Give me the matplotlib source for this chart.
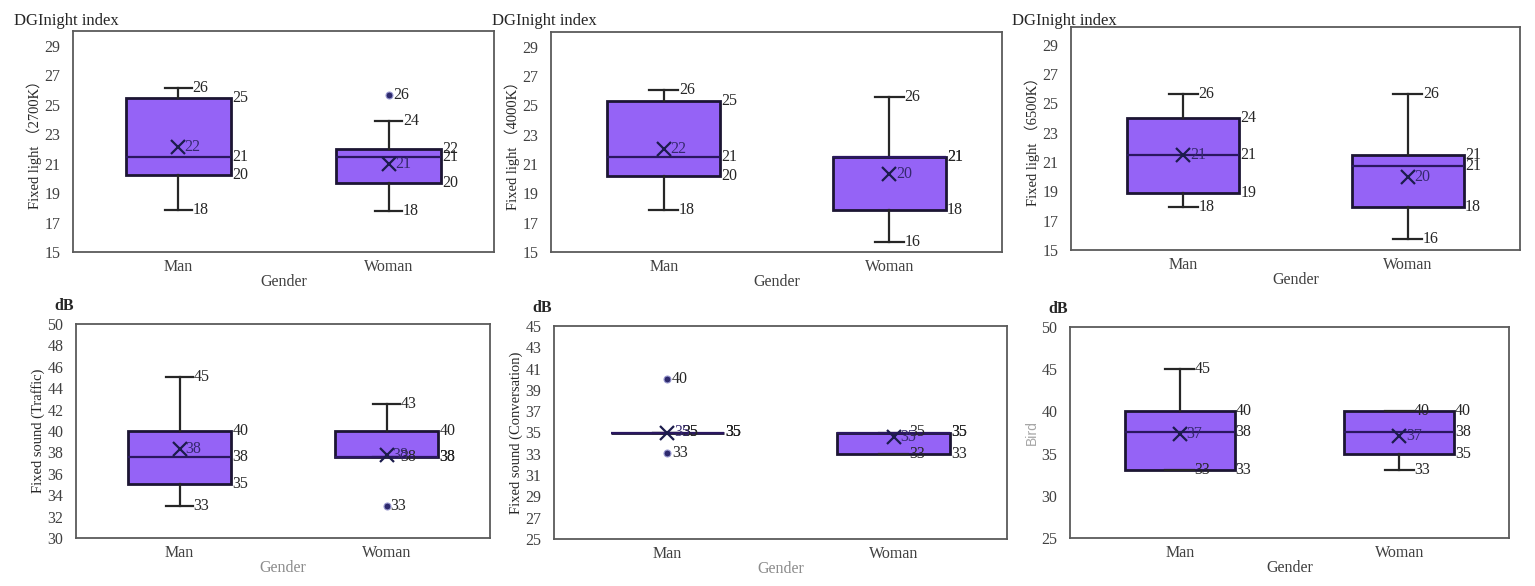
import matplotlib
matplotlib.use("Agg")
import matplotlib.pyplot as plt

plt.rcParams['font.family'] = ['Liberation Serif', 'Noto Sans CJK SC', 'DejaVu Sans']

W, H = 1535, 586

genders = ['Man', 'Woman']

# box stats per panel: [whislo, q1, median, q3, whishi, mean], outliers
light2700 = [[17.85, 20.2, 21.45, 25.45, 26.1, 22.1], [17.8, 19.7, 21.45, 21.97, 23.9, 21.0]]
light2700_fl = [[], [25.66]]
light4000 = [[17.85, 20.2, 21.45, 25.3, 26.05, 22.0], [15.7, 17.85, 21.45, 21.45, 25.6, 20.35]]
light4000_fl = [[], []]
light6500 = [[17.9, 18.9, 21.45, 24.0, 25.66, 21.45], [15.75, 17.92, 20.75, 21.45, 25.66, 20.0]]
light6500_fl = [[], []]
traffic = [[33.03, 35.04, 37.6, 40.03, 45.07, 38.3], [37.6, 37.6, 37.6, 40.0, 42.55, 37.75]]
traffic_fl = [[], [33.0]]
conversation = [[35.0, 35.0, 35.0, 35.0, 35.0, 35.0], [33.0, 33.0, 35.0, 35.0, 35.0, 34.55]]
conversation_fl = [[40.07, 33.06], []]
bird = [[33.05, 33.05, 37.6, 40.0, 45.0, 37.3], [33.1, 34.96, 37.6, 40.0, 40.0, 37.08]]
bird_fl = [[], []]

panels = [
    # stats, fliers, ylim, yticks, ylabel, unit, rect(px: left, top, right, bottom), gender color
    (light2700, light2700_fl, (15, 30), range(15, 30, 2), 'Fixed light （2700K）', 'DGInight index', (73, 31, 494, 252), '#404040'),
    (light4000, light4000_fl, (15, 30), range(15, 30, 2), 'Fixed light （4000K）', 'DGInight index', (551, 32, 1002, 252), '#404040'),
    (light6500, light6500_fl, (15, 30.2), range(15, 30, 2), 'Fixed light （6500K）', 'DGInight index', (1071, 27, 1520, 250), '#404040'),
    (traffic, traffic_fl, (30, 50), range(30, 51, 2), 'Fixed sound (Traffic)', 'dB', (76, 324, 490, 538), '#8c8c8c'),
    (conversation, conversation_fl, (25, 45), range(25, 46, 2), 'Fixed sound (Conversation)', 'dB', (554, 326, 1007, 539), '#8c8c8c'),
    (bird, bird_fl, (25, 50), range(25, 51, 5), 'Bird', 'dB', (1070, 327, 1509, 538), '#404040'),
]

fill = '#9563F6'
edge = '#1c1533'
txt = '#262626'

fig = plt.figure(figsize=(W / 100, H / 100), dpi=100)

for stats, fliers, ylim, yticks, ylabel, unit, rect, gcol in panels:
    l, t, r, b = rect
    ax = fig.add_axes([l / W, 1 - b / H, (r - l) / W, (b - t) / H])
    bs = []
    for s, f in zip(stats, fliers):
        bs.append(dict(whislo=s[0], q1=s[1], med=s[2], q3=s[3], whishi=s[4], mean=s[5], fliers=f))
    ax.bxp(bs, positions=[1, 2], widths=0.5, patch_artist=True, showmeans=True,
           capwidths=0.13,
           boxprops=dict(facecolor=fill, edgecolor=edge, linewidth=2),
           medianprops=dict(color='#2a1760', linewidth=1.6),
           whiskerprops=dict(color='#262626', linewidth=1.6),
           capprops=dict(color='#262626', linewidth=1.6),
           flierprops=dict(marker='o', markersize=5, markerfacecolor='#2e2a6e', markeredgecolor='#9a9ad0', markeredgewidth=0.8),
           meanprops=dict(marker='x', markersize=10, markeredgecolor='#1c1c4c', markeredgewidth=1.6))

    # value labels like the spreadsheet does
    for pos, s, f in zip([1, 2], stats, fliers):
        for v in (s[1], s[2], s[3]):
            ax.text(pos + 0.255, v, '%.0f' % v, ha='left', va='center', fontsize=11.5, color=txt)
        for v in (s[0], s[4]):
            ax.text(pos + 0.067, v, '%.0f' % v, ha='left', va='center', fontsize=11.5, color=txt)
        ax.text(pos + 0.03, s[5], '%.0f' % s[5], ha='left', va='center', fontsize=11.5, color='#35286e')
        for v in f:
            ax.text(pos + 0.02, v, '%.0f' % v, ha='left', va='center', fontsize=11.5, color=txt)

    ax.set_xlim(0.5, 2.5)
    ax.set_ylim(*ylim)
    ax.set_yticks(list(yticks))
    ax.set_xticks([1, 2])
    ax.set_xticklabels(genders)
    ax.tick_params(length=0, labelsize=11.5, labelcolor='#404040')
    ax.tick_params(axis='y', pad=9)
    ax.tick_params(axis='x', pad=5)
    for sp in ax.spines.values():
        sp.set_color('#5a5a5a')
        sp.set_linewidth(1.3)

    if ylabel == 'Bird':
        ax.set_ylabel(ylabel, fontsize=10, color='#a6a6a6', family=['Liberation Sans', 'DejaVu Sans'])
    else:
        ax.set_ylabel(ylabel, fontsize=10.5, color='#262626')
    ax.yaxis.set_label_coords(-31 / (r - l), 0.5)
    ax.set_xlabel('Gender', fontsize=11.5, color=gcol)
    ax.xaxis.set_label_coords(0.5, -22 / (b - t))

    if unit == 'dB':
        fig.text((l - 22) / W, 1 - (t - 18) / H, unit, fontsize=11.5, fontweight='bold', color='#262626', ha='left', va='center')
    else:
        fig.text((l - 59) / W, 1 - 21 / H, unit, fontsize=12, color='#262626', ha='left', va='center')

fig.savefig('out.png', dpi=100)
